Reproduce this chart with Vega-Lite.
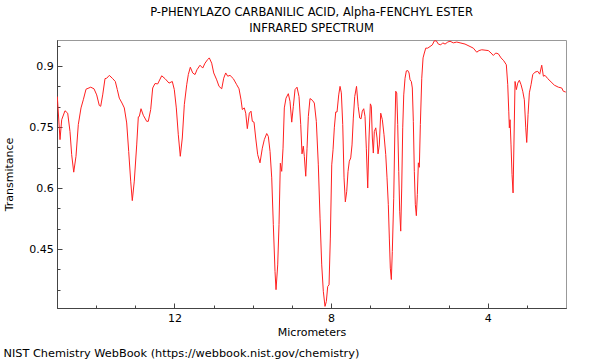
{
  "$schema": "https://vega.github.io/schema/vega-lite/v6.json",
  "width": 509,
  "height": 268,
  "autosize": {"type": "none"},
  "padding": {"left": 57, "top": 40, "right": 34, "bottom": 52},
  "background": "white",
  "config": {
    "font": "DejaVu Sans",
    "view": {"stroke": "#999999", "strokeWidth": 1},
    "axis": {"grid": false, "domainColor": "#444444", "tickColor": "#444444", "labelColor": "black", "titleColor": "black", "labelFontSize": 11, "titleFontSize": 11, "titleFontWeight": "normal", "labelFont": "DejaVu Sans", "titleFont": "DejaVu Sans"}
  },
  "title": {
    "text": ["P-PHENYLAZO CARBANILIC ACID, Alpha-FENCHYL ESTER", "INFRARED SPECTRUM"],
    "fontSize": 11.5,
    "font": "DejaVu Sans",
    "fontWeight": "normal",
    "color": "black",
    "anchor": "middle",
    "frame": "group",
    "lineHeight": 16.7,
    "offset": 5
  },
  "data": {
    "values": [
      {"um": 14.992, "t": 0.825}, {"um": 14.923, "t": 0.719}, {"um": 14.880, "t": 0.768}, {"um": 14.796, "t": 0.790},
      {"um": 14.727, "t": 0.784}, {"um": 14.668, "t": 0.739}, {"um": 14.625, "t": 0.682}, {"um": 14.573, "t": 0.639},
      {"um": 14.515, "t": 0.678}, {"um": 14.456, "t": 0.756}, {"um": 14.387, "t": 0.797}, {"um": 14.328, "t": 0.817},
      {"um": 14.259, "t": 0.843}, {"um": 14.139, "t": 0.848}, {"um": 14.055, "t": 0.844}, {"um": 13.986, "t": 0.829},
      {"um": 13.920, "t": 0.803}, {"um": 13.884, "t": 0.801}, {"um": 13.833, "t": 0.829}, {"um": 13.774, "t": 0.869},
      {"um": 13.731, "t": 0.870}, {"um": 13.664, "t": 0.877}, {"um": 13.577, "t": 0.869}, {"um": 13.511, "t": 0.862},
      {"um": 13.460, "t": 0.842}, {"um": 13.409, "t": 0.821}, {"um": 13.340, "t": 0.809}, {"um": 13.281, "t": 0.797},
      {"um": 13.220, "t": 0.760}, {"um": 13.169, "t": 0.690}, {"um": 13.118, "t": 0.617}, {"um": 13.077, "t": 0.569},
      {"um": 13.026, "t": 0.617}, {"um": 12.964, "t": 0.706}, {"um": 12.923, "t": 0.775}, {"um": 12.898, "t": 0.776},
      {"um": 12.854, "t": 0.795}, {"um": 12.796, "t": 0.779}, {"um": 12.709, "t": 0.764}, {"um": 12.668, "t": 0.764},
      {"um": 12.607, "t": 0.793}, {"um": 12.556, "t": 0.846}, {"um": 12.497, "t": 0.857}, {"um": 12.428, "t": 0.856},
      {"um": 12.326, "t": 0.876}, {"um": 12.241, "t": 0.869}, {"um": 12.139, "t": 0.858}, {"um": 12.055, "t": 0.862},
      {"um": 12.004, "t": 0.842}, {"um": 11.953, "t": 0.797}, {"um": 11.902, "t": 0.731}, {"um": 11.851, "t": 0.678},
      {"um": 11.800, "t": 0.723}, {"um": 11.748, "t": 0.805}, {"um": 11.687, "t": 0.854}, {"um": 11.646, "t": 0.879},
      {"um": 11.595, "t": 0.897}, {"um": 11.534, "t": 0.883}, {"um": 11.475, "t": 0.879}, {"um": 11.424, "t": 0.891},
      {"um": 11.347, "t": 0.902}, {"um": 11.278, "t": 0.895}, {"um": 11.220, "t": 0.907}, {"um": 11.151, "t": 0.916},
      {"um": 11.110, "t": 0.920}, {"um": 11.049, "t": 0.907}, {"um": 10.997, "t": 0.883}, {"um": 10.921, "t": 0.866},
      {"um": 10.862, "t": 0.850}, {"um": 10.793, "t": 0.844}, {"um": 10.742, "t": 0.870}, {"um": 10.691, "t": 0.883},
      {"um": 10.640, "t": 0.875}, {"um": 10.581, "t": 0.877}, {"um": 10.497, "t": 0.869}, {"um": 10.410, "t": 0.854},
      {"um": 10.351, "t": 0.844}, {"um": 10.300, "t": 0.817}, {"um": 10.267, "t": 0.793}, {"um": 10.216, "t": 0.797},
      {"um": 10.180, "t": 0.784}, {"um": 10.139, "t": 0.746}, {"um": 10.088, "t": 0.784}, {"um": 10.045, "t": 0.789},
      {"um": 10.011, "t": 0.764}, {"um": 9.968, "t": 0.762}, {"um": 9.925, "t": 0.723}, {"um": 9.874, "t": 0.682},
      {"um": 9.815, "t": 0.662}, {"um": 9.756, "t": 0.698}, {"um": 9.705, "t": 0.719}, {"um": 9.644, "t": 0.734},
      {"um": 9.603, "t": 0.727}, {"um": 9.559, "t": 0.690}, {"um": 9.516, "t": 0.625}, {"um": 9.475, "t": 0.510},
      {"um": 9.432, "t": 0.395}, {"um": 9.406, "t": 0.350}, {"um": 9.363, "t": 0.411}, {"um": 9.330, "t": 0.510},
      {"um": 9.296, "t": 0.661}, {"um": 9.261, "t": 0.641}, {"um": 9.227, "t": 0.698}, {"um": 9.194, "t": 0.797},
      {"um": 9.151, "t": 0.821}, {"um": 9.092, "t": 0.832}, {"um": 9.049, "t": 0.813}, {"um": 9.005, "t": 0.762},
      {"um": 8.964, "t": 0.801}, {"um": 8.921, "t": 0.842}, {"um": 8.870, "t": 0.848}, {"um": 8.819, "t": 0.825},
      {"um": 8.775, "t": 0.756}, {"um": 8.742, "t": 0.684}, {"um": 8.709, "t": 0.703}, {"um": 8.683, "t": 0.678},
      {"um": 8.647, "t": 0.629}, {"um": 8.614, "t": 0.698}, {"um": 8.581, "t": 0.776}, {"um": 8.538, "t": 0.820},
      {"um": 8.479, "t": 0.816}, {"um": 8.428, "t": 0.809}, {"um": 8.377, "t": 0.764}, {"um": 8.326, "t": 0.657},
      {"um": 8.282, "t": 0.526}, {"um": 8.239, "t": 0.411}, {"um": 8.198, "t": 0.346}, {"um": 8.155, "t": 0.309},
      {"um": 8.121, "t": 0.321}, {"um": 8.086, "t": 0.358}, {"um": 8.052, "t": 0.362}, {"um": 8.019, "t": 0.477},
      {"um": 7.983, "t": 0.657}, {"um": 7.950, "t": 0.694}, {"um": 7.917, "t": 0.748}, {"um": 7.881, "t": 0.787},
      {"um": 7.848, "t": 0.787}, {"um": 7.805, "t": 0.829}, {"um": 7.771, "t": 0.850}, {"um": 7.738, "t": 0.834},
      {"um": 7.702, "t": 0.756}, {"um": 7.669, "t": 0.625}, {"um": 7.636, "t": 0.566}, {"um": 7.600, "t": 0.592},
      {"um": 7.567, "t": 0.641}, {"um": 7.534, "t": 0.666}, {"um": 7.498, "t": 0.674}, {"um": 7.465, "t": 0.706},
      {"um": 7.432, "t": 0.772}, {"um": 7.396, "t": 0.825}, {"um": 7.350, "t": 0.850}, {"um": 7.307, "t": 0.800},
      {"um": 7.268, "t": 0.772}, {"um": 7.235, "t": 0.770}, {"um": 7.202, "t": 0.789}, {"um": 7.166, "t": 0.795},
      {"um": 7.133, "t": 0.776}, {"um": 7.100, "t": 0.698}, {"um": 7.064, "t": 0.600}, {"um": 7.031, "t": 0.723},
      {"um": 6.997, "t": 0.807}, {"um": 6.972, "t": 0.801}, {"um": 6.946, "t": 0.723}, {"um": 6.921, "t": 0.686},
      {"um": 6.895, "t": 0.739}, {"um": 6.859, "t": 0.748}, {"um": 6.826, "t": 0.723}, {"um": 6.801, "t": 0.684},
      {"um": 6.768, "t": 0.706}, {"um": 6.732, "t": 0.784}, {"um": 6.691, "t": 0.768}, {"um": 6.648, "t": 0.731},
      {"um": 6.604, "t": 0.682}, {"um": 6.571, "t": 0.625}, {"um": 6.538, "t": 0.559}, {"um": 6.512, "t": 0.477},
      {"um": 6.487, "t": 0.403}, {"um": 6.461, "t": 0.375}, {"um": 6.436, "t": 0.444}, {"um": 6.400, "t": 0.575},
      {"um": 6.374, "t": 0.723}, {"um": 6.349, "t": 0.838}, {"um": 6.323, "t": 0.834}, {"um": 6.298, "t": 0.756},
      {"um": 6.272, "t": 0.641}, {"um": 6.247, "t": 0.543}, {"um": 6.221, "t": 0.494}, {"um": 6.196, "t": 0.600},
      {"um": 6.170, "t": 0.748}, {"um": 6.144, "t": 0.829}, {"um": 6.111, "t": 0.870}, {"um": 6.078, "t": 0.888},
      {"um": 6.042, "t": 0.889}, {"um": 6.009, "t": 0.883}, {"um": 5.983, "t": 0.866}, {"um": 5.950, "t": 0.862},
      {"um": 5.925, "t": 0.846}, {"um": 5.899, "t": 0.764}, {"um": 5.874, "t": 0.641}, {"um": 5.848, "t": 0.559},
      {"um": 5.822, "t": 0.532}, {"um": 5.797, "t": 0.584}, {"um": 5.771, "t": 0.662}, {"um": 5.746, "t": 0.651},
      {"um": 5.720, "t": 0.756}, {"um": 5.684, "t": 0.870}, {"um": 5.651, "t": 0.920}, {"um": 5.618, "t": 0.932},
      {"um": 5.582, "t": 0.944}, {"um": 5.531, "t": 0.944}, {"um": 5.473, "t": 0.948}, {"um": 5.414, "t": 0.952},
      {"um": 5.363, "t": 0.962}, {"um": 5.312, "t": 0.962}, {"um": 5.261, "t": 0.954}, {"um": 5.199, "t": 0.952},
      {"um": 5.148, "t": 0.957}, {"um": 5.089, "t": 0.954}, {"um": 5.020, "t": 0.959}, {"um": 4.962, "t": 0.961},
      {"um": 4.877, "t": 0.957}, {"um": 4.790, "t": 0.959}, {"um": 4.706, "t": 0.957}, {"um": 4.579, "t": 0.954},
      {"um": 4.451, "t": 0.948}, {"um": 4.367, "t": 0.944}, {"um": 4.280, "t": 0.934}, {"um": 4.221, "t": 0.938},
      {"um": 4.152, "t": 0.940}, {"um": 4.068, "t": 0.939}, {"um": 3.984, "t": 0.938}, {"um": 3.914, "t": 0.932},
      {"um": 3.856, "t": 0.926}, {"um": 3.795, "t": 0.932}, {"um": 3.728, "t": 0.930}, {"um": 3.659, "t": 0.920},
      {"um": 3.590, "t": 0.913}, {"um": 3.524, "t": 0.903}, {"um": 3.488, "t": 0.854}, {"um": 3.462, "t": 0.789},
      {"um": 3.447, "t": 0.748}, {"um": 3.429, "t": 0.768}, {"um": 3.404, "t": 0.706}, {"um": 3.378, "t": 0.633},
      {"um": 3.352, "t": 0.588}, {"um": 3.327, "t": 0.723}, {"um": 3.301, "t": 0.862}, {"um": 3.268, "t": 0.842},
      {"um": 3.232, "t": 0.858}, {"um": 3.191, "t": 0.865}, {"um": 3.148, "t": 0.854}, {"um": 3.105, "t": 0.838},
      {"um": 3.064, "t": 0.817}, {"um": 3.028, "t": 0.748}, {"um": 3.003, "t": 0.712}, {"um": 2.969, "t": 0.781},
      {"um": 2.936, "t": 0.834}, {"um": 2.893, "t": 0.854}, {"um": 2.849, "t": 0.879}, {"um": 2.791, "t": 0.885},
      {"um": 2.722, "t": 0.887}, {"um": 2.671, "t": 0.880}, {"um": 2.620, "t": 0.902}, {"um": 2.578, "t": 0.875},
      {"um": 2.535, "t": 0.877}, {"um": 2.466, "t": 0.869}, {"um": 2.382, "t": 0.861}, {"um": 2.298, "t": 0.853},
      {"um": 2.195, "t": 0.848}, {"um": 2.109, "t": 0.846}, {"um": 2.068, "t": 0.838}, {"um": 2.006, "t": 0.836}
    ]
  },
  "layer": [
    {
      "mark": {"type": "line", "color": "#ff2020", "strokeWidth": 1, "clip": true},
      "encoding": {
        "x": {
          "field": "um", "type": "quantitative", "sort": null,
          "scale": {"domain": [2, 15], "reverse": true, "nice": false, "zero": false},
          "axis": {
            "orient": "bottom",
            "values": [3, 5, 6, 7, 9, 10, 11, 13, 14],
            "labels": false,
            "tickSize": -3,
            "title": "NIST Chemistry WebBook (https://webbook.nist.gov/chemistry)",
            "titleFontSize": 11.3,
            "titleAlign": "left",
            "titleAnchor": "start",
            "titleBaseline": "alphabetic",
            "titleX": -54,
            "titleY": 48
          }
        },
        "y": {
          "field": "t", "type": "quantitative",
          "scale": {"domain": [0.305, 0.964], "nice": false, "zero": false},
          "axis": {
            "orient": "left",
            "values": [0.35, 0.4, 0.5, 0.55, 0.65, 0.7, 0.8, 0.85, 0.95],
            "labels": false,
            "tickSize": -3,
            "title": null
          }
        },
        "order": {"field": "um", "sort": "descending"}
      }
    },
    {
      "mark": {"type": "line", "opacity": 0},
      "encoding": {
        "x": {
          "field": "um", "type": "quantitative",
          "axis": {
            "orient": "bottom",
            "values": [4, 8, 12],
            "tickSize": -5,
            "labelPadding": 9,
            "title": "Micrometers",
            "titlePadding": 3
          }
        },
        "y": {
          "field": "t", "type": "quantitative",
          "axis": {
            "orient": "left",
            "values": [0.45, 0.6, 0.75, 0.9],
            "format": ".2~f",
            "tickSize": -5,
            "labelPadding": 8.7,
            "title": "Transmitance",
            "titlePadding": 14
          }
        },
        "order": {"field": "um", "sort": "descending"}
      }
    }
  ],
  "resolve": {"axis": {"x": "independent", "y": "independent"}}
}
